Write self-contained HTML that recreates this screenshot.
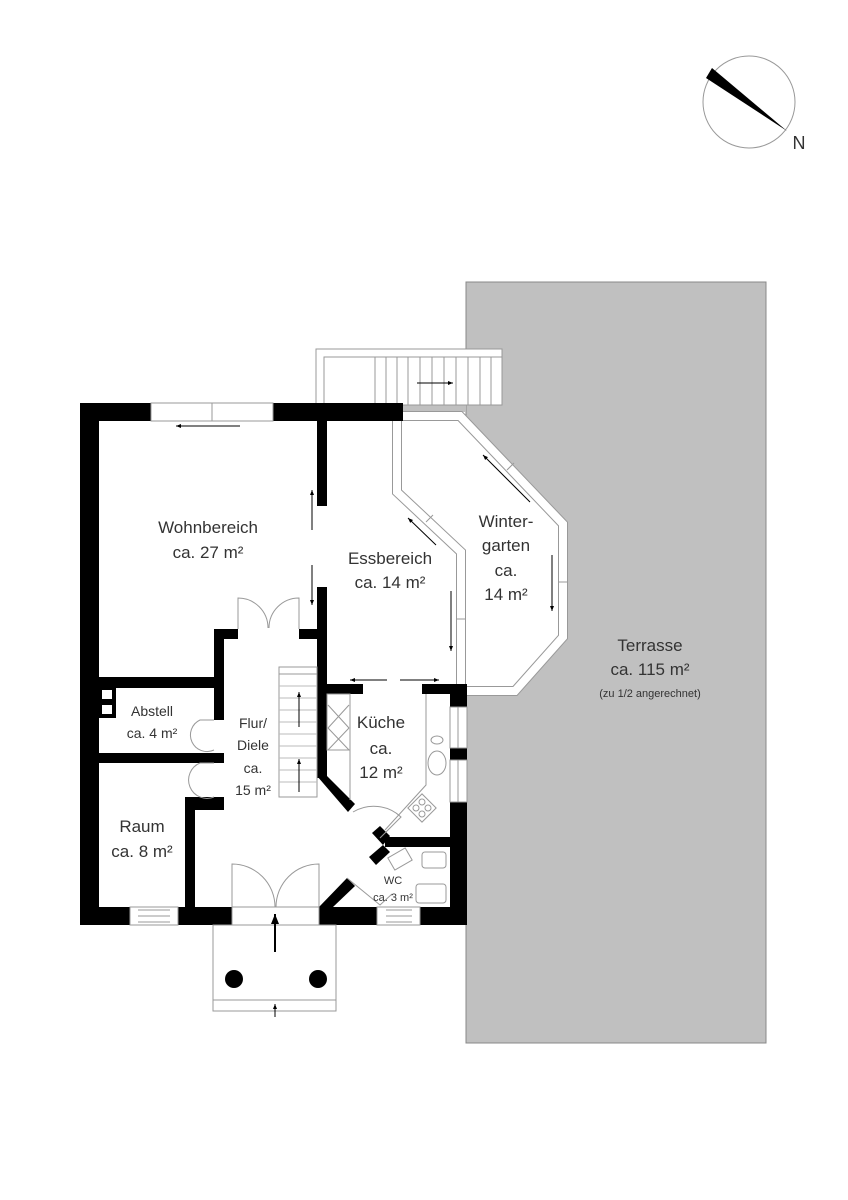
<!DOCTYPE html>
<html><head><meta charset="utf-8"><style>
html,body{margin:0;padding:0;background:#fff}
svg{display:block}
text{font-family:"Liberation Sans","DejaVu Sans",sans-serif;fill:#333;text-anchor:middle}
</style></head><body>
<svg width="848" height="1200" viewBox="0 0 848 1200" xmlns="http://www.w3.org/2000/svg">
<defs><marker id="a" markerWidth="6" markerHeight="6" refX="5" refY="3" orient="auto"><path d="M0,1 L5,3 L0,5 Z" fill="#000"/></marker></defs>
<circle cx="749" cy="102" r="46" fill="none" stroke="#999" stroke-width="1"/>
<path d="M706,78 L712,68 L787,131 Z" fill="#000"/>
<text x="799" y="149" style="font-size:18px">N</text>
<rect x="466" y="282" width="300" height="761" fill="#c0c0c0" stroke="#888" stroke-width="1"/>
<rect x="403" y="403" width="63" height="9" fill="#c0c0c0"/>
<rect x="316" y="349" width="186" height="56" fill="#fff" stroke="#999"/>
<path d="M324,405 V357 H502" fill="none" stroke="#999"/>
<g stroke="#999">
<line x1="375" y1="357" x2="375" y2="405"/><line x1="386" y1="357" x2="386" y2="405"/><line x1="397" y1="357" x2="397" y2="405"/><line x1="408" y1="357" x2="408" y2="405"/><line x1="420" y1="357" x2="420" y2="405"/><line x1="432" y1="357" x2="432" y2="405"/><line x1="444" y1="357" x2="444" y2="405"/><line x1="456" y1="357" x2="456" y2="405"/><line x1="468" y1="357" x2="468" y2="405"/><line x1="480" y1="357" x2="480" y2="405"/><line x1="491" y1="357" x2="491" y2="405"/>
</g>
<line x1="417" y1="383" x2="453" y2="383" stroke="#000" marker-end="url(#a)"/>
<polygon points="397,412 462,412 567,523 567,637 517,695 462,695 462,552 397,492" fill="#fff"/>
<polyline points="403,416 460,416 563,524 563,637 515,691 466,691" fill="none" stroke="#999" stroke-width="10"/>
<polyline points="403,416 460,416 563,524 563,637 515,691 466,691" fill="none" stroke="#fff" stroke-width="8"/>
<polyline points="397,421 397,492 461,552 461,687" fill="none" stroke="#999" stroke-width="10"/>
<polyline points="397,421 397,492 461,552 461,687" fill="none" stroke="#fff" stroke-width="8"/>
<g stroke="#999"><line x1="507" y1="470" x2="514" y2="463"/><line x1="558" y1="582" x2="567" y2="582"/><line x1="426" y1="522" x2="433" y2="515"/><line x1="456" y1="619" x2="466" y2="619"/></g>
<g stroke="#000" stroke-width="1">
<line x1="530" y1="502" x2="483" y2="455" marker-end="url(#a)"/>
<line x1="552" y1="555" x2="552" y2="611" marker-end="url(#a)"/>
<line x1="436" y1="545" x2="408" y2="518" marker-end="url(#a)"/>
<line x1="451" y1="591" x2="451" y2="651" marker-end="url(#a)"/>
<line x1="312" y1="530" x2="312" y2="490" marker-end="url(#a)"/>
<line x1="312" y1="565" x2="312" y2="605" marker-end="url(#a)"/>
<line x1="240" y1="426" x2="176" y2="426" marker-end="url(#a)"/>
<line x1="387" y1="680" x2="350" y2="680" marker-end="url(#a)"/>
<line x1="400" y1="680" x2="439" y2="680" marker-end="url(#a)"/>
</g>
<g fill="#000">
<rect x="80" y="403" width="71" height="18"/>
<rect x="273" y="403" width="130" height="18"/>
<rect x="80" y="403" width="19" height="522"/>
<rect x="80" y="907" width="50" height="18"/>
<rect x="178" y="907" width="54" height="18"/>
<rect x="319" y="907" width="58" height="18"/>
<rect x="420" y="907" width="47" height="18"/>
<rect x="317" y="421" width="10" height="85"/>
<rect x="317" y="587" width="10" height="191"/>
<polygon points="317,776 327,776 355,804 348,812"/>
<rect x="214" y="629" width="10" height="91"/>
<rect x="214" y="629" width="24" height="10"/>
<rect x="299" y="629" width="18" height="10"/>
<rect x="98" y="677" width="126" height="11"/>
<rect x="98" y="686" width="18" height="32"/>
<rect x="98" y="753" width="126" height="10"/>
<rect x="214" y="753" width="10" height="10"/>
<rect x="185" y="797" width="39" height="13"/>
<rect x="185" y="797" width="10" height="112"/>
<rect x="327" y="684" width="36" height="10"/>
<rect x="422" y="684" width="45" height="10"/>
<rect x="450" y="684" width="17" height="23"/>
<rect x="450" y="748" width="17" height="12"/>
<rect x="450" y="802" width="17" height="107"/>
<rect x="385" y="837" width="65" height="10"/>
<polygon points="372,833 380,826 390,836 383,845"/>
<polygon points="369,857 383,845 390,852 376,865"/>
<polygon points="319,907 347,878 355,886 333,907"/>
</g>
<rect x="102" y="690" width="10" height="9" fill="#fff"/>
<rect x="102" y="705" width="10" height="9" fill="#fff"/>
<g fill="#fff" stroke="#999">
<rect x="151" y="403" width="122" height="18"/><line x1="212" y1="403" x2="212" y2="421"/>
<rect x="130" y="907" width="48" height="18"/><line x1="138" y1="910" x2="170" y2="910"/><line x1="138" y1="916" x2="170" y2="916"/><line x1="138" y1="922" x2="170" y2="922"/>
<rect x="377" y="907" width="43" height="18"/><line x1="386" y1="910" x2="412" y2="910"/><line x1="386" y1="916" x2="412" y2="916"/><line x1="386" y1="922" x2="412" y2="922"/>
<rect x="232" y="907" width="87" height="18"/>
<rect x="450" y="707" width="17" height="41"/><line x1="458" y1="707" x2="458" y2="748"/>
<rect x="450" y="760" width="17" height="42"/><line x1="458" y1="760" x2="458" y2="802"/>
</g>
<g fill="none" stroke="#999">
<path d="M238,629 V598 A30,30 0 0 1 268,628"/><path d="M299,629 V598 A30,30 0 0 0 269,628"/>
<path d="M214,720 H200 A15,15 0 0 0 214,750"/><path d="M214,763 H200 A17,17 0 0 0 214,797"/>
<path d="M232,907 V864 A43,43 0 0 1 275,907"/><path d="M319,907 V864 A43,43 0 0 0 276,907"/>
<path d="M353,812 A40,40 0 0 1 401,817 L380,838"/>
<path d="M347,878 L380,905 L392,894"/>
<rect x="279" y="667" width="38" height="130"/><line x1="279" y1="674" x2="317" y2="674"/>
<g stroke="#bbb"><line x1="279" y1="686" x2="317" y2="686"/><line x1="279" y1="698" x2="317" y2="698"/><line x1="279" y1="710" x2="317" y2="710"/><line x1="279" y1="722" x2="317" y2="722"/><line x1="279" y1="734" x2="317" y2="734"/><line x1="279" y1="746" x2="317" y2="746"/><line x1="279" y1="758" x2="317" y2="758"/><line x1="279" y1="770" x2="317" y2="770"/><line x1="279" y1="782" x2="317" y2="782"/></g>
<rect x="327" y="694" width="23" height="56"/>
<path d="M328,705 L349,728 M349,705 L328,728 M328,728 L349,750 M349,728 L328,750"/>
<path d="M350,694 V800 M426,694 V785 L385,830"/>
<ellipse cx="437" cy="740" rx="6" ry="4"/><ellipse cx="437" cy="763" rx="9" ry="12"/>
<rect x="412" y="798" width="20" height="20" transform="rotate(-45 422 808)"/>
<circle cx="416" cy="808" r="3"/><circle cx="422" cy="802" r="3"/><circle cx="428" cy="808" r="3"/><circle cx="422" cy="814" r="3"/>
<rect x="390" y="852" width="20" height="14" transform="rotate(-30 400 859)"/>
<rect x="422" y="852" width="24" height="16" rx="3"/><rect x="416" y="884" width="30" height="19" rx="3"/>
<rect x="213" y="925" width="123" height="86"/><line x1="213" y1="1000" x2="336" y2="1000"/>
</g>
<circle cx="234" cy="979" r="9" fill="#000"/><circle cx="318" cy="979" r="9" fill="#000"/>
<line x1="275" y1="952" x2="275" y2="914" stroke="#000" stroke-width="2" marker-end="url(#a)"/>
<line x1="275" y1="1017" x2="275" y2="1004" stroke="#000" marker-end="url(#a)"/>
<g stroke="#000"><line x1="299" y1="727" x2="299" y2="692" marker-end="url(#a)"/><line x1="299" y1="792" x2="299" y2="759" marker-end="url(#a)"/></g>
<g style="font-size:17px">
<text x="208" y="533">Wohnbereich</text><text x="208" y="558">ca. 27 m²</text>
<text x="390" y="564">Essbereich</text><text x="390" y="588">ca. 14 m²</text>
<text x="506" y="527">Winter-</text><text x="506" y="551">garten</text><text x="506" y="576">ca.</text><text x="506" y="600">14 m²</text>
<text x="650" y="651">Terrasse</text><text x="650" y="675">ca. 115 m²</text>
<text x="381" y="728">Küche</text><text x="381" y="754">ca.</text><text x="381" y="778">12 m²</text>
<text x="142" y="832">Raum</text><text x="142" y="857">ca. 8 m²</text>
</g>
<text x="650" y="697" style="font-size:11px">(zu 1/2 angerechnet)</text>
<g style="font-size:14px">
<text x="152" y="716">Abstell</text><text x="152" y="738">ca. 4 m²</text>
<text x="253" y="728">Flur/</text><text x="253" y="750">Diele</text><text x="253" y="773">ca.</text><text x="253" y="795">15 m²</text>
</g>
<text x="393" y="884" style="font-size:11px">WC</text><text x="393" y="901" style="font-size:11px">ca. 3 m²</text>
</svg>
</body></html>
